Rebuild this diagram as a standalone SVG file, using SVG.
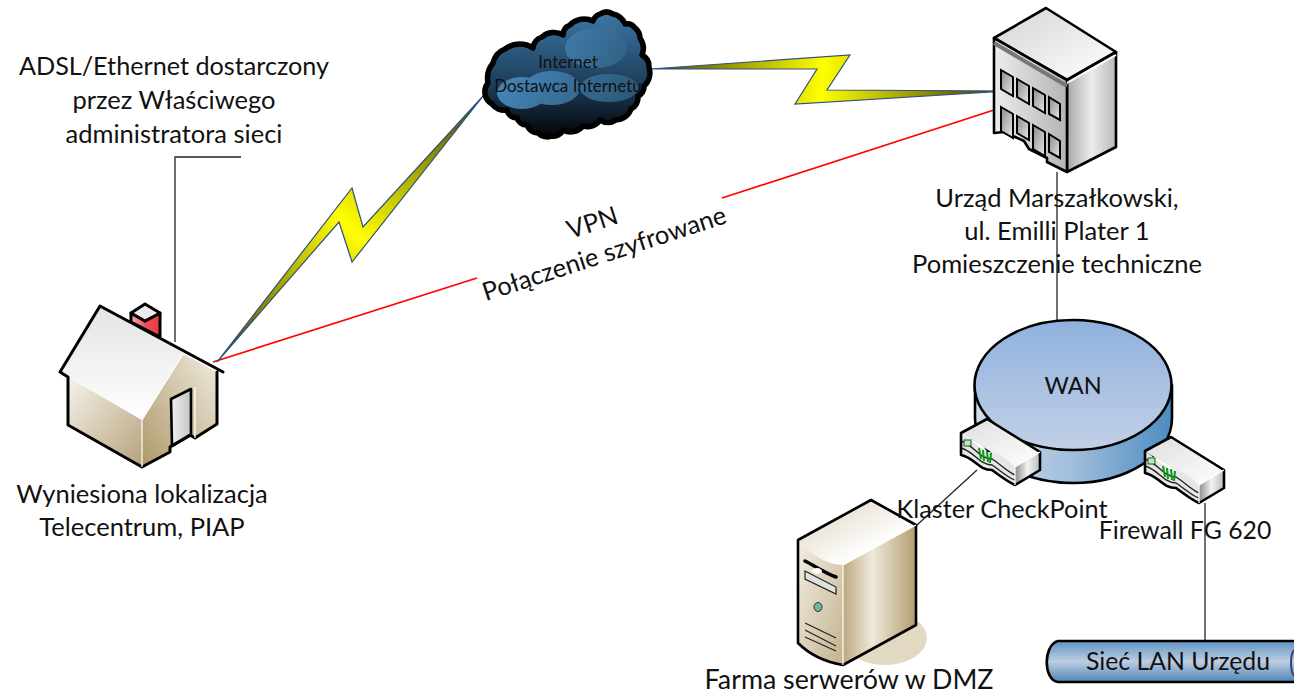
<svg xmlns="http://www.w3.org/2000/svg" xmlns:xlink="http://www.w3.org/1999/xlink" width="1294" height="693" viewBox="0 0 1294 693">
<style>
text{font-family:"Lato","Open Sans","Liberation Sans",sans-serif;font-size:25.5px;fill:#111;text-anchor:middle}
.k{stroke:#000;stroke-width:2.6;stroke-linejoin:round;stroke-linecap:round}
.h{stroke:#000;stroke-width:3;stroke-linejoin:round;stroke-linecap:round;fill:none}
.thin{fill:none;stroke:#222;stroke-width:1.3}
.red{fill:none;stroke:#f00;stroke-width:1.7}
.bolt{stroke:#2f5080;stroke-width:1.2;stroke-linejoin:miter}
.win{fill:url(#winF);stroke:#000;stroke-width:2}
</style>
<defs>
<linearGradient id="roof" x1="0" y1="0" x2="0" y2="1"><stop offset="0" stop-color="#e4e4e4"/><stop offset="1" stop-color="#fff"/></linearGradient>
<linearGradient id="wallL" x1="0" y1="0" x2="1" y2="1"><stop offset="0" stop-color="#f7f3ea"/><stop offset="1" stop-color="#b5a27c"/></linearGradient>
<linearGradient id="wallR" x1="0" y1="1" x2="1" y2="0"><stop offset="0" stop-color="#ad9869"/><stop offset="1" stop-color="#f0ebdf"/></linearGradient>
<linearGradient id="door" x1="0" y1="0" x2="1" y2="0"><stop offset="0" stop-color="#f0f0f0"/><stop offset="1" stop-color="#c4c4c4"/></linearGradient>
<linearGradient id="chim" x1="0" y1="0" x2="1" y2="0"><stop offset="0" stop-color="#f9b0b0"/><stop offset=".5" stop-color="#ee4d55"/><stop offset="1" stop-color="#e83a44"/></linearGradient>
<linearGradient id="cloud" x1="0" y1="0" x2="0" y2="1"><stop offset="0" stop-color="#3a78a8"/><stop offset=".6" stop-color="#1d3a55"/><stop offset="1" stop-color="#020406"/></linearGradient>
<linearGradient id="puff" gradientUnits="userSpaceOnUse" x1="497" y1="30" x2="630" y2="115"><stop offset="0" stop-color="#4d90c8"/><stop offset="1" stop-color="#2a5675"/></linearGradient>
<linearGradient id="b1" gradientUnits="userSpaceOnUse" x1="217" y1="362" x2="484" y2="95"><stop offset="0" stop-color="#403f00"/><stop offset=".5" stop-color="#ffff00"/><stop offset="1" stop-color="#403f00"/></linearGradient>
<linearGradient id="b2" gradientUnits="userSpaceOnUse" x1="650" y1="69" x2="995" y2="91"><stop offset="0" stop-color="#403f00"/><stop offset=".5" stop-color="#ffff00"/><stop offset="1" stop-color="#403f00"/></linearGradient>
<linearGradient id="bTop" x1="0" y1="0" x2="1" y2="1"><stop offset="0" stop-color="#d4d4d4"/><stop offset="1" stop-color="#fff"/></linearGradient>
<linearGradient id="bFront" x1="0" y1="0" x2="1" y2="0"><stop offset="0" stop-color="#ededed"/><stop offset="1" stop-color="#b4b4b4"/></linearGradient>
<linearGradient id="bSide" x1="0" y1="0" x2="1" y2="0"><stop offset="0" stop-color="#a8a8a8"/><stop offset=".5" stop-color="#ececec"/><stop offset="1" stop-color="#b8b8b8"/></linearGradient>
<linearGradient id="winF" x1="0" y1="0" x2="1" y2="1"><stop offset="0" stop-color="#8a8a8a"/><stop offset="1" stop-color="#e8e8e8"/></linearGradient>
<linearGradient id="wanTop" x1="0" y1="0" x2="0" y2="1"><stop offset="0" stop-color="#8fb1de"/><stop offset="1" stop-color="#c3d0e6"/></linearGradient>
<linearGradient id="wanSide" x1="0" y1="0" x2="1" y2="0"><stop offset="0" stop-color="#d3deee"/><stop offset=".5" stop-color="#a0bddb"/><stop offset="1" stop-color="#4b8cc0"/></linearGradient>
<linearGradient id="rTop" x1="0" y1="0" x2="1" y2="1"><stop offset="0" stop-color="#dedede"/><stop offset="1" stop-color="#fff"/></linearGradient>
<linearGradient id="rSide" x1="0" y1="0" x2="1" y2="0"><stop offset="0" stop-color="#8c8c8c"/><stop offset=".5" stop-color="#f2f2f2"/><stop offset="1" stop-color="#bbb"/></linearGradient>
<linearGradient id="sTop" x1="0" y1="0" x2="1" y2="1"><stop offset="0" stop-color="#ddd3bb"/><stop offset=".7" stop-color="#fff"/></linearGradient>
<linearGradient id="sFront" x1="0" y1="0" x2="1" y2="1"><stop offset="0" stop-color="#f3eee2"/><stop offset="1" stop-color="#c3b28e"/></linearGradient>
<linearGradient id="sSide" x1="0" y1="0" x2="1" y2="0"><stop offset="0" stop-color="#bba87f"/><stop offset=".4" stop-color="#efe9da"/><stop offset="1" stop-color="#b29d70"/></linearGradient>
<linearGradient id="lan" x1="0" y1="0" x2="0" y2="1"><stop offset="0" stop-color="#5f93c2"/><stop offset=".5" stop-color="#bccde2"/><stop offset="1" stop-color="#4f84b5"/></linearGradient>
<g id="router">
<path fill="url(#rTop)" d="M987 419L1040 452L1015 467L961 433Z"/>
<path fill="url(#rSide)" d="M1040 452V470L1015 485V467Z"/>
<path fill="#e6e6e6" d="M961 433V455C975 458 978 470 992 470C1000 476 1008 482 1015 485V467C1005 458 998 452 988 452C980 448 970 440 961 433Z"/>
<path d="M961 441C975 446 978 458 992 459C1000 464 1008 472 1015 475M961 448C975 452 978 464 992 465C1000 470 1008 478 1015 480" fill="none" stroke="#222" stroke-width="1.4"/>
<path class="k" fill="none" stroke-width="3" d="M961 433L987 419L1040 452V470L1015 485C1008 482 1000 476 992 470C978 470 975 458 961 455Z"/>
<path d="M1015 467L1040 452M1015 467V485" stroke="#fff" stroke-width="1.200"/>
<rect x="964" y="440" width="7" height="6" fill="#bfe6bf" stroke="#1b5e20" stroke-width="1"/>
<path d="M979 448L981 459M983 450L984 461M987 451L988 462M991 453L990 463" stroke="#0a9a12" stroke-width="2" fill="none"/>
</g>
</defs>

<g id="connectors">
<path class="thin" d="M241 157H175V342"/>
<path class="thin" d="M1057 172V322"/>
<path class="thin" d="M977 470L917 525"/>
<path class="thin" d="M1205 503V640"/>
<path class="red" d="M213 362L477 278"/>
<path class="red" d="M722 198L994 110"/>
<path class="bolt" fill="url(#b1)" d="M217 362L339 222L352 262L484 95L363 227L352 188Z"/>
<path class="bolt" fill="url(#b2)" d="M650 69L850 55L827 90L1008 91L795 104L817 69Z"/>
</g>

<g id="house">
<path class="h" style="fill:url(#chim)" d="M131 313V322L160 337V313L145 321Z"/>
<path class="h" style="fill:#ececec" d="M145 304L160 313L145 321L131 313Z"/>
<path fill="url(#wallL)" d="M68 377V425L142 467V420Z"/>
<path fill="url(#wallR)" d="M142 467L170 452V447L190 435L195 438L217 424V372L183 354L142 420Z"/>
<path class="k" fill="url(#door)" d="M171 399L191 389V435L172 446Z"/>
<path fill="url(#roof)" d="M100 306L183 352L142 420L60 372Z"/>
<path class="h" d="M223 372L100 306L60 372L68 377V425L142 467L170 452V447L190 435L195 438L217 424V372"/>
<path d="M183 354L142 420V467M195 438V387" fill="none" stroke="#fff" stroke-width="1.200"/>
</g>

<g id="cloud-node">
<path fill="url(#cloud)" stroke="#000" stroke-width="5.500" stroke-linejoin="round" d="M488 83A24 24 0 0 1 493 63A20 20 0 0 1 505 49A24 24 0 0 1 533 48A13 13 0 0 1 542 37A18 18 0 0 1 563 35A11 11 0 0 1 570 25A20 20 0 0 1 593 21A11 11 0 0 1 600 14A12 12 0 0 1 613 14A17 17 0 0 1 625 24A10 10 0 0 1 635 28A13 13 0 0 1 640 38A18 18 0 0 1 642 55A13 13 0 0 1 649 67A18 18 0 0 1 644 86A10 10 0 0 1 638 96A13 13 0 0 1 631 109A16 16 0 0 1 616 120A14 14 0 0 1 600 120A15 15 0 0 1 583 126A16 16 0 0 1 563 130A10 10 0 0 1 552 136A13 13 0 0 1 538 133A12 12 0 0 1 527 125A10 10 0 0 1 517 118A10 10 0 0 1 507 110A15 15 0 0 1 492 104A14 14 0 0 1 488 83Z"/>
<g fill="url(#puff)"><ellipse cx="596" cy="48" rx="31" ry="20"/><ellipse cx="610" cy="26" rx="9" ry="7"/><ellipse cx="522" cy="93" rx="25" ry="16"/><ellipse cx="552" cy="88" rx="28" ry="17"/><ellipse cx="609" cy="88" rx="29" ry="14"/></g>
<text x="568" y="68" style="font-size:17px">Internet</text>
<text x="568" y="92" style="font-size:17px">Dostawca Internetu</text>
</g>

<g id="building">
<path class="k" fill="url(#bTop)" d="M1046 8L1116 52L1067 80L994 38Z"/>
<path class="k" fill="url(#bSide)" d="M1067 80L1116 52V147L1067 172Z"/>
<path class="k" fill="url(#bFront)" d="M994 38L1067 80V172L1047 162V158L1029 149L1024 141L1004 132L994 133Z"/>
<path d="M994 43L1067 86" stroke="#777" stroke-width="4"/>
<path d="M1067 83L1116 55" stroke="#fff" stroke-width="2"/>
<path class="win" d="M1001 70L1013 77V96L1001 89Z"/>
<path class="win" d="M1017 79L1029 86V104L1017 97Z"/>
<path class="win" d="M1033 88L1045 95V113L1033 106Z"/>
<path class="win" d="M1049 97L1060 104V120L1049 114Z"/>
<path class="win" d="M1001 107L1013 114V138L1001 131Z"/>
<path class="win" d="M1017 116L1029 123V140L1017 133Z"/>
<path class="win" d="M1033 125L1045 132V156L1033 149Z"/>
<path class="win" d="M1049 134L1060 141V158L1049 152Z"/>
</g>

<g id="wan">
<path class="k" fill="url(#wanSide)" stroke-width="3" d="M975 385V418C975 455 1020 483 1073 483C1126 483 1172 455 1172 418V385Z"/>
<ellipse class="k" stroke-width="3" fill="url(#wanTop)" cx="1073" cy="385" rx="98.500" ry="65"/>
<text x="1073" y="394" style="font-size:23.5px">WAN</text>
</g>

<g id="router-checkpoint"><use xlink:href="#router" href="#router"/></g>
<g id="router-firewall"><use xlink:href="#router" href="#router" x="184" y="18"/></g>

<g id="server">
<ellipse cx="885" cy="638" rx="42" ry="27" fill="#e2d9c2"/>
<path fill="url(#sSide)" d="M843 565L916 525V625L843 665Z"/>
<path fill="url(#sFront)" d="M798 540L843 565V665C825 662 810 655 798 643Z"/>
<path fill="url(#sTop)" d="M871 500L916 525L843 565C825 565 808 552 798 540Z"/>
<path class="k" fill="none" stroke-width="3" d="M798 540L871 500L916 525V625L843 665C825 662 810 655 798 643Z"/>
<path d="M843 565V665M843 565L916 525" stroke="#fff" stroke-width="1.200"/>
<path d="M805 561C815 566 825 573 836 577" stroke="#000" stroke-width="3.500" fill="none" stroke-linecap="round"/>
<ellipse cx="817" cy="571" rx="5" ry="3" fill="#fff"/>
<path d="M805 571L836 587V594L805 579Z" fill="#e0e0e0" stroke="#222" stroke-width="1.200"/>
<ellipse cx="818" cy="607" rx="4" ry="4.500" fill="#70b89a" stroke="#333" stroke-width="1"/>
<path d="M805 623L836 638M805 630L836 646M805 637L836 651" stroke="#222" stroke-width="1.200" fill="none"/>
</g>

<g id="lan-node">
<path class="k" stroke-width="3" fill="url(#lan)" d="M1296 641H1058C1043 645 1043 680 1058 682H1296Z"/>
<path d="M1294 650C1290 655 1290 670 1294 676" stroke="#3d3d80" stroke-width="2" fill="none"/>
<text x="1178" y="670" style="font-size:24.800px">Sieć LAN Urzędu</text>
</g>

<g id="labels">
<text x="174" y="75" style="font-size:25.200px">ADSL/Ethernet dostarczony</text>
<text x="174" y="109">przez Właściwego</text>
<text x="174" y="143">administratora sieci</text>
<text x="142" y="503">Wyniesiona lokalizacja</text>
<text x="142" y="536">Telecentrum, PIAP</text>
<text x="1057" y="207">Urząd Marszałkowski,</text>
<text x="1057" y="240">ul. Emilli Plater 1</text>
<text x="1057" y="273">Pomieszczenie techniczne</text>
<text x="1002" y="518" style="font-size:25.300px">Klaster CheckPoint</text>
<text x="1185" y="539" style="font-size:24.800px">Firewall FG 620</text>
<text x="849" y="689" style="font-size:26.800px">Farma serwerów w DMZ</text>
<text transform="translate(595 231) rotate(-18)">VPN</text>
<text transform="translate(607 262) rotate(-18)">Połączenie szyfrowane</text>
</g>
</svg>
